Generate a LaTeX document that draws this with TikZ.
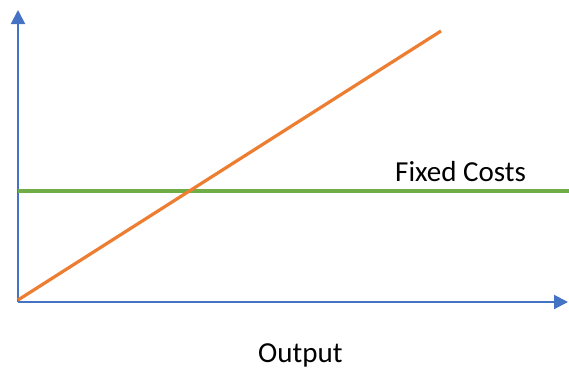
\documentclass[tikz,border=0pt]{standalone}
\usepackage{fontspec}
\setmainfont{Carlito}
\usetikzlibrary{arrows.meta}
\definecolor{axisblue}{HTML}{4472C4}
\definecolor{costorange}{HTML}{ED7D31}
\definecolor{fixedgreen}{HTML}{70AD47}
\tikzset{
  axisline/.style={draw=axisblue, line width=2pt, -{Triangle[width=14pt,length=14pt]}},
  costline/.style={line width=3.2pt},
  lbl/.style={font=\fontsize{29}{34}\selectfont, inner sep=0pt, anchor=base west}
}
\begin{document}
\begin{tikzpicture}[x=1pt,y=1pt]
  \useasboundingbox (0,0) rectangle (569,368);
  % axes
  \coordinate (origin) at (18,66);
  \coordinate (ytop) at (18,358);
  \coordinate (xend) at (568,66);
  \draw[axisline] (origin) -- (ytop);
  \draw[axisline] (origin) -- (xend);
  % fixed cost level
  \coordinate (fixL) at (18,177);
  \coordinate (fixR) at (569,177);
  \draw[costline, fixedgreen] (fixL) -- (fixR);
  % rising cost line
  \coordinate (costA) at (18,68);
  \coordinate (costB) at (441,337);
  \draw[costline, costorange] (costA) -- (costB);
  % labels
  \node[lbl] (fixlabel) at (395,187) {Fixed Costs};
  \node[lbl] (outlabel) at (258,6) {Output};
\end{tikzpicture}
\end{document}
